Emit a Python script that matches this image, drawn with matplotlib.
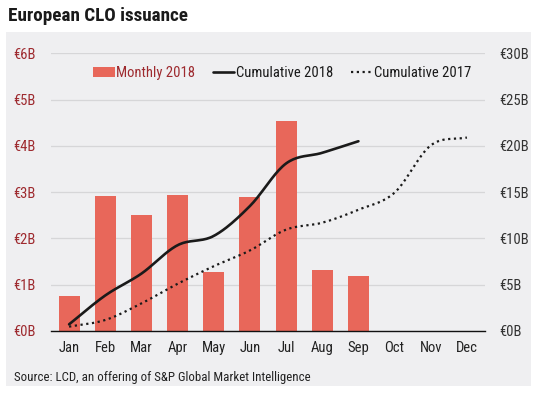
import numpy as np
import matplotlib
matplotlib.use("Agg")
import matplotlib.pyplot as plt
from matplotlib import font_manager as fm

months = ["Jan", "Feb", "Mar", "Apr", "May", "Jun", "Jul", "Aug", "Sep", "Oct", "Nov", "Dec"]
monthly_2018 = [0.76, 2.92, 2.50, 2.93, 1.27, 2.89, 4.53, 1.31, 1.19]
cumulative_2018 = [0.72, 3.84, 6.2, 9.27, 10.27, 13.5, 18.1, 19.25, 20.5]
cumulative_2017 = [0.47, 1.19, 2.98, 5.1, 7.0, 8.7, 10.95, 11.7, 13.1, 14.95, 20.05, 20.9]
left_ticks = [0, 1, 2, 3, 4, 5, 6]
left_labels = ["€0B", "€1B", "€2B", "€3B", "€4B", "€5B", "€6B"]
right_ticks = [0, 5, 10, 15, 20, 25, 30]
right_labels = ["€0B", "€5B", "€10B", "€15B", "€20B", "€25B", "€30B"]

available = {f.name for f in fm.fontManager.ttflist}
narrow = None
for cand in ["Liberation Sans Narrow", "Arial Narrow", "Roboto Condensed", "Open Sans Condensed"]:
    if cand in available:
        narrow = cand
        break
base = narrow if narrow else "Liberation Sans"
plt.rcParams["font.family"] = [base, "DejaVu Sans"]


def smooth(xs, ys, n=20):
    xs = np.asarray(xs, float)
    ys = np.asarray(ys, float)
    px = np.concatenate([[2 * xs[0] - xs[1]], xs, [2 * xs[-1] - xs[-2]]])
    py = np.concatenate([[2 * ys[0] - ys[1]], ys, [2 * ys[-1] - ys[-2]]])
    ox, oy = [], []
    t = np.linspace(0, 1, n, endpoint=False)
    for i in range(1, len(px) - 2):
        p0, p1, p2, p3 = (np.array([px[j], py[j]]) for j in (i - 1, i, i + 1, i + 2))
        c1 = p1 + (p2 - p0) / 6
        c2 = p2 - (p3 - p1) / 6
        pts = ((1 - t) ** 3)[:, None] * p1 + (3 * (1 - t) ** 2 * t)[:, None] * c1 \
            + (3 * (1 - t) * t ** 2)[:, None] * c2 + (t ** 3)[:, None] * p2
        ox.extend(pts[:, 0]); oy.extend(pts[:, 1])
    ox.append(xs[-1]); oy.append(ys[-1])
    return np.array(ox), np.array(oy)


W, H = 539, 398
fig = plt.figure(figsize=(W / 100, H / 100), dpi=100)
fig.patch.set_facecolor("white")

bg = fig.add_axes([6 / W, 1 - 386 / H, 525 / W, (386 - 32) / H], zorder=-5)
bg.set_facecolor("#EFEFF1")
bg.set_xticks([]); bg.set_yticks([])
for s in bg.spines.values():
    s.set_visible(False)

fig.text(8 / W, 1 - 16 / H, "European CLO issuance", fontsize=13.8, fontweight="bold",
         color="#1a1a1a", ha="left", va="center")
fig.text(14 / W, 1 - 377 / H, "Source: LCD, an offering of S&P Global Market Intelligence",
         fontsize=9.3, color="#222222", ha="left", va="center")

ax = fig.add_axes([51 / W, 1 - 331 / H, (485 - 51) / W, (331 - 53.3) / H])
ax.set_facecolor("none")
x = np.arange(len(months))
bar_color = "#E8675A"
bars = ax.bar(x[:len(monthly_2018)], monthly_2018, width=0.58, color=bar_color, zorder=2,
              label="Monthly 2018")
ax.set_xlim(-0.5, len(months) - 0.5)
ax.set_ylim(0, 6)
ax.set_yticks(left_ticks)
ax.set_yticklabels(left_labels)
ax.set_xticks(x)
ax.set_xticklabels(months)
ax.tick_params(axis="y", length=0, pad=11, labelsize=10.5, labelcolor="#9E2A2F")
ax.tick_params(axis="x", length=0, pad=7, labelsize=10.5, labelcolor="#222222")
ax.grid(axis="y", color="#D6D6D8", linewidth=0.9, zorder=0)
for s in ["top", "left", "right"]:
    ax.spines[s].set_visible(False)
ax.spines["bottom"].set_color("#111111")
ax.spines["bottom"].set_linewidth(1.0)
ax.spines["bottom"].set_zorder(5)

ax2 = ax.twinx()
ax2.set_ylim(0, 30)
ax2.set_yticks(right_ticks)
ax2.set_yticklabels(right_labels)
ax2.tick_params(axis="y", length=0, pad=10, labelsize=10.5, labelcolor="#333333")
for s in ["top", "left", "right", "bottom"]:
    ax2.spines[s].set_visible(False)

sx, sy = smooth(x[:len(cumulative_2018)], cumulative_2018)
l1, = ax2.plot(sx, sy, color="#1a1a1a", lw=1.9, solid_capstyle="round", zorder=4,
               label="Cumulative 2018")
sx, sy = smooth(x[:len(cumulative_2017)], cumulative_2017)
l2, = ax2.plot(sx, sy, color="#1a1a1a", lw=1.6, linestyle=(0, (1, 1.6)), zorder=3,
               label="Cumulative 2017")

leg = ax2.legend(handles=[bars, l1, l2], loc="center",
                 bbox_to_anchor=(0.5 + 14 / 434, 1 - (73 - 53.3) / (331 - 53.3)),
                 ncol=3, frameon=False, fontsize=10.5, handlelength=1.5, handletextpad=0.1,
                 columnspacing=1.2, borderaxespad=0)
for txt, c in zip(leg.get_texts(), ["#9E2A2F", "#1a1a1a", "#1a1a1a"]):
    txt.set_color(c)

fig.savefig("out.png", dpi=100, facecolor="white")
